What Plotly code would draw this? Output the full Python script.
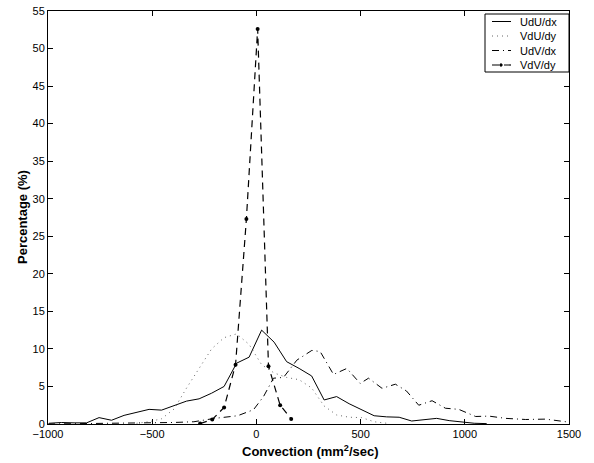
import plotly.graph_objects as go

# UdU/dx (solid)
x_udu = [-995, -935, -875, -815, -755, -695, -635, -575, -515, -455, -395, -335, -275, -215,
         -155, -95, -35, 25, 85, 145, 205, 265, 325, 385, 445, 505, 565, 625, 685, 745, 805,
         865, 925, 985, 1045, 1105]
y_udu = [0.1, 0.2, 0.15, 0.15, 0.85, 0.5, 1.15, 1.5, 1.95, 1.85, 2.5, 3.05, 3.35, 4.1,
         5.0, 8.1, 8.9, 12.5, 10.9, 8.3, 7.4, 6.4, 3.2, 3.65, 2.7, 1.9, 1.1, 0.95, 0.9, 0.4, 0.6,
         0.75, 0.45, 0.3, 0.1, 0.05]

# VdU/dy (dotted)
x_vdu = [-575, -515, -455, -395, -335, -275, -215, -155, -95, -35, 25, 85, 145, 205, 265,
         325, 385, 445, 505, 565, 625]
y_vdu = [0.1, 0.3, 0.7, 2.0, 4.8, 7.4, 10.0, 11.5, 12.0, 10.6, 7.9, 6.8, 6.2, 5.9, 4.8,
         2.4, 1.2, 0.9, 0.85, 0.3, 0.1]

# UdV/dx (dash-dot)
x_udv = [-1000, -800, -600, -400, -300, -200, -90, -14, 34, 82, 130, 194, 266, 306, 370,
         434, 498, 538, 603, 667, 720, 779, 843, 907, 971, 1052, 1116, 1196, 1292, 1388, 1485]
y_udv = [0.0, 0.05, 0.1, 0.2, 0.3, 0.75, 1.1, 1.9, 3.65, 6.1, 6.2, 8.5, 9.8, 9.65, 6.6,
         7.4, 5.4, 6.1, 4.75, 5.3, 4.4, 2.5, 3.1, 2.1, 1.95, 1.0, 1.05, 0.75, 0.6, 0.65, 0.3]

# VdV/dy (dashed with dots)
x_vdv = [-270, -212, -155, -100, -48, 6, 58, 114, 167]
y_vdv = [0.05, 0.6, 2.2, 7.9, 27.3, 52.6, 7.7, 2.5, 0.67]

series_names = ["UdU/dx", "VdU/dy", "UdV/dx", "VdV/dy"]

x_ticks = [-1000, -500, 0, 500, 1000, 1500]
x_tick_text = ["\u22121000", "\u2212500", "0", "500", "1000", "1500"]
y_ticks = list(range(0, 56, 5))

x_title = "<b>Convection (mm<sup>2</sup>/sec)</b>"
y_title = "<b>Percentage (%)</b>"

FONT = "Liberation Sans, Arial, sans-serif"

W, H = 594, 463
L, R, T, B = 48, 25, 11, 39
PW, PH = W - L - R, H - T - B


def px_x(p):
    return (p - L) / PW


def px_y(p):
    return (H - B - p) / PH


styles = [
    dict(color="black", width=1, dash="solid"),
    dict(color="#666666", width=1, dash="1px,4px"),
    dict(color="black", width=1, dash="7px,4px,1px,4px"),
    dict(color="black", width=1.2, dash="7px,5px"),
]

fig = go.Figure()
fig.add_trace(go.Scatter(x=x_udu, y=y_udu, mode="lines", name=series_names[0], line=styles[0]))
fig.add_trace(go.Scatter(x=x_vdu, y=y_vdu, mode="lines", name=series_names[1], line=styles[1]))
fig.add_trace(go.Scatter(x=x_udv, y=y_udv, mode="lines", name=series_names[2], line=styles[2]))
fig.add_trace(go.Scatter(x=x_vdv, y=y_vdv, mode="lines+markers", name=series_names[3],
                         line=styles[3], marker=dict(color="black", size=4)))

axis_common = dict(
    showline=True, linecolor="black", linewidth=1, mirror="ticks",
    ticks="inside", ticklen=5, tickcolor="black", tickwidth=1,
    showgrid=False, zeroline=False, automargin=False,
    tickfont=dict(family=FONT, size=11, color="black"),
)

fig.update_xaxes(range=[-1000, 1500], tickvals=x_ticks, ticktext=x_tick_text, **axis_common)
fig.update_yaxes(range=[0, 55], tickvals=y_ticks, **axis_common)

fig.add_annotation(text=x_title, xref="paper", yref="paper", x=px_x(310), y=px_y(451),
                   xanchor="center", yanchor="middle", showarrow=False,
                   font=dict(family=FONT, size=13, color="black"))
fig.add_annotation(text=y_title, xref="paper", yref="paper", x=px_x(22.5), y=0.5,
                   xanchor="center", yanchor="middle", showarrow=False, textangle=-90,
                   font=dict(family=FONT, size=13, color="black"))

# legend box drawn in MATLAB style
fig.add_shape(type="rect", xref="paper", yref="paper",
              x0=px_x(485), x1=px_x(569), y0=px_y(72), y1=px_y(14),
              line=dict(color="black", width=1), fillcolor="white", layer="above")
item_y = [21.5, 36, 50.5, 65]
for name, st, iy in zip(series_names, styles, item_y):
    fig.add_shape(type="line", xref="paper", yref="paper",
                  x0=px_x(492), x1=px_x(511), y0=px_y(iy), y1=px_y(iy),
                  line=dict(color=st["color"], width=st["width"], dash=st["dash"]), layer="above")
    fig.add_annotation(text=name, xref="paper", yref="paper", x=px_x(518), y=px_y(iy),
                       xanchor="left", yanchor="middle", showarrow=False,
                       font=dict(family=FONT, size=11, color="black"))
fig.add_shape(type="circle", xref="paper", yref="paper",
              x0=px_x(499.8), x1=px_x(502.2), y0=px_y(item_y[3] + 1.2), y1=px_y(item_y[3] - 1.2),
              line=dict(color="black", width=1), fillcolor="black", layer="above")

fig.update_layout(
    width=W, height=H,
    margin=dict(l=L, r=R, t=T, b=B, autoexpand=False),
    plot_bgcolor="white", paper_bgcolor="white",
    showlegend=False,
)

fig.write_html("out.html", config={"displayModeBar": False},
               post_script="document.body.style.margin='0';document.body.style.padding='0';"
                           "document.body.style.overflow='hidden';")
